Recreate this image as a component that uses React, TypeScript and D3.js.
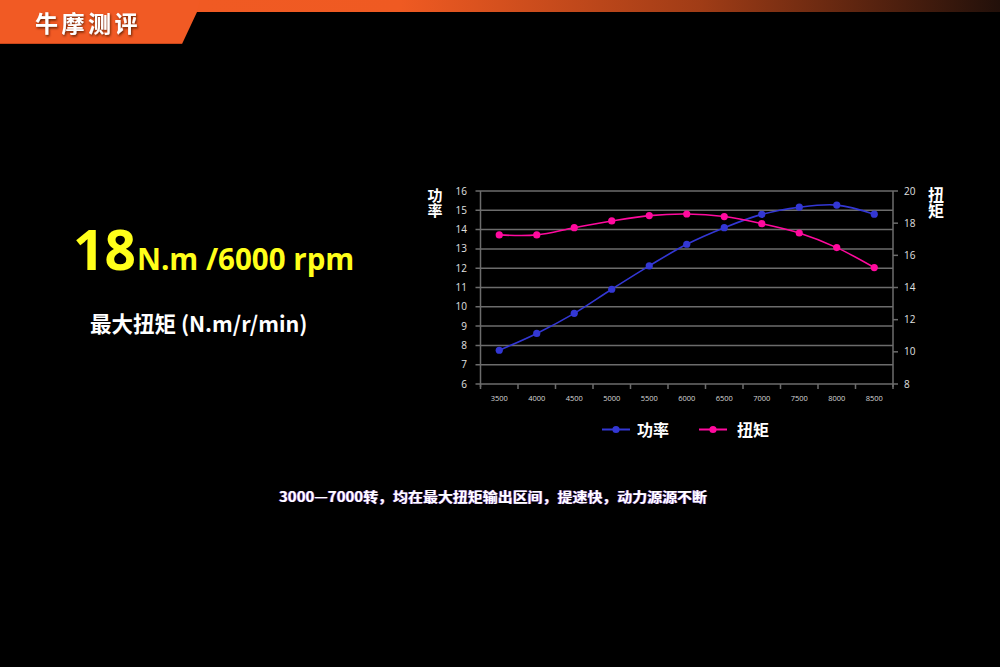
import React from "react";
import * as d3 from "d3";

const rpm = ["3500", "4000", "4500", "5000", "5500", "6000", "6500", "7000", "7500", "8000", "8500"];
const power = [7.75, 8.62, 9.66, 10.91, 12.12, 13.24, 14.1, 14.79, 15.16, 15.27, 14.8];
const torque = [17.27, 17.27, 17.72, 18.14, 18.47, 18.57, 18.41, 17.97, 17.39, 16.48, 15.24];
const leftTicks = [6, 7, 8, 9, 10, 11, 12, 13, 14, 15, 16];
const rightTicks = [8, 10, 12, 14, 16, 18, 20];

const W = 1000;
const H = 667;
const x0 = 480.5, x1 = 893, yTop = 191, yBot = 384;
const BLUE = "#3337d4";
const PINK = "#ff0a9e";
const GRID = "#6c6c6c";
const CJK = "'Noto Sans CJK SC', sans-serif";

export default function App() {
  const x = d3.scaleBand<string>().domain(rpm).range([x0, x1]);
  const yL = d3.scaleLinear().domain([6, 16]).range([yBot, yTop]);
  const yR = d3.scaleLinear().domain([8, 20]).range([yBot, yTop]);
  const cx = (d: string) => (x(d) as number) + x.bandwidth() / 2;

  const powerLine = d3
    .line<number>()
    .x((_, i) => cx(rpm[i]))
    .y((d) => yL(d))
    .curve(d3.curveCatmullRom.alpha(0.5));
  const torqueLine = d3
    .line<number>()
    .x((_, i) => cx(rpm[i]))
    .y((d) => yR(d))
    .curve(d3.curveCatmullRom.alpha(0.5));

  const boundaries = rpm.map((d) => x(d) as number).concat([x1]);

  return (
    <svg
      width={W}
      height={H}
      style={{ position: "fixed", left: 0, top: 0, background: "#000" }}
    >
      <defs>
        <linearGradient id="topbar" x1="0" x2="1" y1="0" y2="0">
          <stop offset="0" stopColor="#f15a24" />
          <stop offset="0.4" stopColor="#ef5a22" />
          <stop offset="0.7" stopColor="#a03c16" />
          <stop offset="1" stopColor="#22100a" />
        </linearGradient>
        <filter id="shadow" x="-10%" y="-20%" width="130%" height="150%">
          <feDropShadow dx="1" dy="1.5" stdDeviation="1.2" floodColor="#5a1a00" floodOpacity="0.9" />
        </filter>
      </defs>
      <rect x={0} y={0} width={W} height={H} fill="#000" />

      {/* header */}
      <rect x={0} y={0} width={W} height={12} fill="url(#topbar)" />
      <polygon points="0,0 200,0 197,12 182,44 0,44" fill="#f15a24" />
      <line x1={0} x2={182} y1={43.5} y2={43.5} stroke="#c9461a" strokeWidth={1} />
      <text
        x={35}
        y={32}
        fill="#fff"
        fontFamily={CJK}
        fontWeight={700}
        fontSize={23}
        letterSpacing={3.5}
        filter="url(#shadow)"
      >
        牛摩测评
      </text>

      {/* headline */}
      <text x={73} y={270} fill="#ffff1a" fontFamily="'Open Sans', sans-serif" fontWeight={700}>
        <tspan fontSize={55}>18</tspan>
        <tspan fontSize={29.5} dx={1}>N.m /6000 rpm</tspan>
      </text>
      <text x={90} y={332} fill="#fff" fontFamily={CJK} fontWeight={700} fontSize={21.5}>
        最大扭矩 (N.m/r/min)
      </text>

      {/* grid */}
      {leftTicks.map((t) => (
        <g key={"g" + t}>
          <line x1={x0 - 5} x2={x1} y1={yL(t)} y2={yL(t)} stroke={GRID} strokeWidth={1.5} />
          <text
            x={467}
            y={yL(t)}
            dy="0.35em"
            textAnchor="end"
            fill="#e0e0e0"
            fontFamily="'Open Sans', sans-serif"
            fontSize={10}
          >
            {t}
          </text>
        </g>
      ))}
      <line x1={x0} x2={x0} y1={yTop} y2={yBot + 3} stroke={GRID} strokeWidth={1.5} />
      <line x1={x1} x2={x1} y1={yTop} y2={yBot + 3} stroke={GRID} strokeWidth={1.5} />
      {rightTicks.map((t) => (
        <g key={"r" + t}>
          <line x1={x1} x2={x1 + 5} y1={yR(t)} y2={yR(t)} stroke={GRID} strokeWidth={1.5} />
          <text
            x={904}
            y={yR(t)}
            dy="0.35em"
            fill="#e0e0e0"
            fontFamily="'Open Sans', sans-serif"
            fontSize={10}
          >
            {t}
          </text>
        </g>
      ))}
      {boundaries.map((b, i) => (
        <line key={"b" + i} x1={b} x2={b} y1={yBot} y2={yBot + 5} stroke={GRID} strokeWidth={1.5} />
      ))}
      {rpm.map((r) => (
        <text
          key={"l" + r}
          x={cx(r)}
          y={398}
          dy="0.35em"
          textAnchor="middle"
          fill="#d8d8d8"
          fontFamily="'Open Sans', sans-serif"
          fontSize={7.5}
        >
          {r}
        </text>
      ))}

      {/* axis titles */}
      <text
        x={435}
        y={188}
        fill="#fff"
        fontFamily={CJK}
        fontWeight={700}
        fontSize={15}
        style={{ writingMode: "vertical-rl" }}
      >
        功率
      </text>
      <text
        x={936}
        y={187}
        fill="#fff"
        fontFamily={CJK}
        fontWeight={700}
        fontSize={16}
        style={{ writingMode: "vertical-rl" }}
      >
        扭矩
      </text>

      {/* series */}
      <path d={powerLine(power) || ""} fill="none" stroke={BLUE} strokeWidth={1.6} />
      <path d={torqueLine(torque) || ""} fill="none" stroke={PINK} strokeWidth={1.6} />
      {power.map((v, i) => (
        <circle key={"p" + i} cx={cx(rpm[i])} cy={yL(v)} r={3.6} fill={BLUE} />
      ))}
      {torque.map((v, i) => (
        <circle key={"t" + i} cx={cx(rpm[i])} cy={yR(v)} r={3.6} fill={PINK} />
      ))}

      {/* legend */}
      <line x1={602} x2={630} y1={429.5} y2={429.5} stroke={BLUE} strokeWidth={2} />
      <circle cx={616} cy={429.5} r={3.6} fill={BLUE} />
      <text x={637} y={435.5} fill="#fff" fontFamily={CJK} fontWeight={700} fontSize={16}>
        功率
      </text>
      <line x1={699} x2={727} y1={429.5} y2={429.5} stroke={PINK} strokeWidth={2} />
      <circle cx={713} cy={429.5} r={3.6} fill={PINK} />
      <text x={737} y={435.5} fill="#fff" fontFamily={CJK} fontWeight={700} fontSize={16}>
        扭矩
      </text>

      {/* footnote */}
      <text
        x={279}
        y={502}
        fill="#fff"
        fontFamily={CJK}
        fontWeight={700}
        fontSize={14}
        textLength={428}
        lengthAdjust="spacingAndGlyphs"
        style={{ textShadow: "0.7px 0 0 rgba(120,120,255,0.6), -0.7px 0 0 rgba(255,120,255,0.6)" }}
      >
        3000—7000转，均在最大扭矩输出区间，提速快，动力源源不断
      </text>
    </svg>
  );
}
